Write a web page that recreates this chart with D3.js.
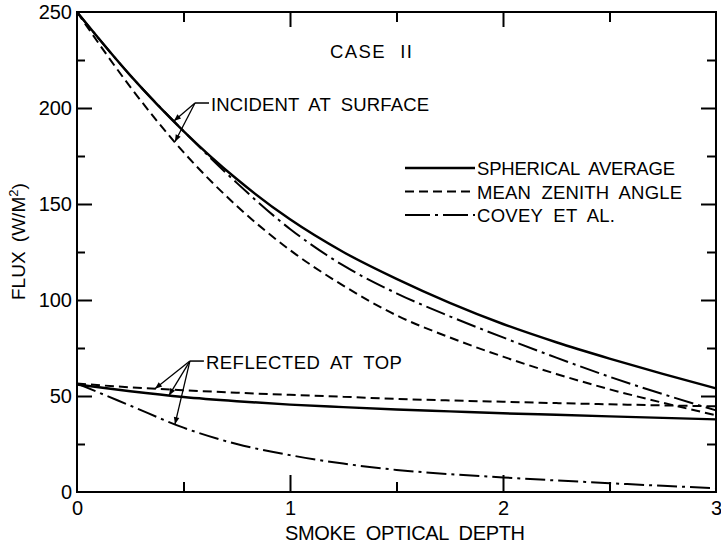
<!DOCTYPE html>
<html>
<head>
<meta charset="utf-8">
<script src="https://cdnjs.cloudflare.com/ajax/libs/d3/7.8.5/d3.min.js"></script>
<style>
    body { margin: 0; background: #fff; }
    text { font-family: "Liberation Sans", Arial, sans-serif; fill: #000; }
</style>
</head>
<body>
<script>
// smoke optical depth (x) and fluxes in W/m2
var depth = [0, 0.25, 0.5, 0.75, 1, 1.25, 1.5, 1.75, 2, 2.25, 2.5, 2.75, 3];

// incident at surface
var incSpherical = [250, 217, 188, 163, 142, 125, 111, 98.5, 87.5, 78, 69.5, 61.5, 54];
var incZenith = [250, 211, 177, 149, 126, 107.5, 92, 80.5, 70.5, 61.5, 53.5, 46.5, 40];
var incCovey = [250, 217, 188, 161, 137, 118, 103.5, 91.5, 80.5, 70, 60, 51, 42.5];

// reflected at top
var refSpherical = [56, 52.5, 49.5, 47.3, 45.5, 44.2, 43, 42, 41, 40.2, 39.4, 38.6, 37.8];
var refZenith = [56.5, 54.5, 53, 51.7, 50.6, 49.6, 48.5, 47.7, 47, 46.3, 45.7, 45.1, 44.6];
var refCovey = [56.5, 45, 33.5, 25, 19.2, 14.8, 11.5, 9.3, 7.6, 6, 4.6, 3.2, 2];

var xTickLabels = [0, 1, 2, 3];
var yTickLabels = [0, 50, 100, 150, 200, 250];
var seriesNames = ["SPHERICAL AVERAGE", "MEAN ZENITH ANGLE", "COVEY ET AL."];

var margin = { top: 12, right: 5, bottom: 55, left: 77 };
var width = 721 - margin.left - margin.right,
    height = 547 - margin.top - margin.bottom;

var dashes = ["none", "9,5", "20,5,3,5"];

var x = d3.scaleLinear().domain([0, 3]).range([0, width]);
var y = d3.scaleLinear().domain([0, 250]).range([height, 0]);

var svg = d3.select("body").append("svg")
    .attr("width", 721)
    .attr("height", 547)
    .append("g")
    .attr("transform", "translate(" + margin.left + "," + margin.top + ")");

var defs = svg.append("defs");
defs.append("marker")
    .attr("id", "arrow")
    .attr("viewBox", "0 0 10 10")
    .attr("refX", 10).attr("refY", 5)
    .attr("markerWidth", 9).attr("markerHeight", 7)
    .attr("markerUnits", "userSpaceOnUse")
    .attr("orient", "auto")
    .append("path")
    .attr("d", "M0,1L10,5L0,9z")
    .attr("fill", "#000");

// frame
svg.append("rect")
    .attr("width", width)
    .attr("height", height)
    .attr("fill", "none")
    .attr("stroke", "#000")
    .attr("stroke-width", 2);

// inward ticks on all four sides
function inwardTicks(axis, values, size, transform) {
    svg.append("g")
        .attr("class", "ticks")
        .attr("transform", transform)
        .call(axis.tickValues(values).tickSizeInner(-size).tickSizeOuter(0).tickFormat(""))
        .call(function (g) { g.select(".domain").remove(); });
}
inwardTicks(d3.axisBottom(x), [1, 2], 17, "translate(0," + height + ")");
inwardTicks(d3.axisBottom(x), [0.5, 1.5, 2.5], 10, "translate(0," + height + ")");
inwardTicks(d3.axisTop(x), [1, 2], 15, "");
inwardTicks(d3.axisTop(x), [0.5, 1.5, 2.5], 10, "");
inwardTicks(d3.axisLeft(y), [50, 100, 150, 200], 15, "");
inwardTicks(d3.axisLeft(y), [25, 75, 125, 175, 225], 8, "");
inwardTicks(d3.axisRight(y), [50, 100, 150, 200], 15, "translate(" + width + ",0)");
inwardTicks(d3.axisRight(y), [25, 75, 125, 175, 225], 9, "translate(" + width + ",0)");
svg.selectAll(".ticks line").attr("stroke", "#000").attr("stroke-width", 2);

// tick labels
var xAxis = d3.axisBottom(x).tickValues(xTickLabels).tickSize(0).tickPadding(9).tickFormat(d3.format("d"));
var yAxis = d3.axisLeft(y).tickValues(yTickLabels).tickSize(0).tickPadding(5).tickFormat(d3.format("d"));

svg.append("g")
    .attr("transform", "translate(0," + height + ")")
    .call(xAxis)
    .call(function (g) { g.select(".domain").remove(); });
svg.append("g")
    .call(yAxis)
    .call(function (g) { g.select(".domain").remove(); });
svg.selectAll(".tick text")
    .style("font-family", '"Liberation Sans", Arial, sans-serif')
    .style("font-size", "20px")
    .attr("fill", "#000");

// axis titles
svg.append("text")
    .attr("x", 285 - margin.left)
    .attr("y", height + 48)
    .attr("textLength", 240)
    .attr("lengthAdjust", "spacing")
    .style("font-size", "20px")
    .style("word-spacing", "5px")
    .text("SMOKE OPTICAL DEPTH");

var ylab = svg.append("text")
    .attr("transform", "rotate(-90)")
    .attr("x", -(300 - margin.top))
    .attr("y", -52)
    .style("font-size", "19px")
    .style("word-spacing", "4px");
ylab.append("tspan").text("FLUX (W/M");
ylab.append("tspan").attr("baseline-shift", "super").style("font-size", "13px").text("2");
ylab.append("tspan").text(")");

// curves
var line = d3.line()
    .x(function (d) { return x(d[0]); })
    .y(function (d) { return y(d[1]); })
    .curve(d3.curveMonotoneX);

var curves = [
    { values: incSpherical, style: 0 },
    { values: incZenith, style: 1 },
    { values: incCovey, style: 2 },
    { values: refSpherical, style: 0 },
    { values: refZenith, style: 1 },
    { values: refCovey, style: 2 }
];

svg.selectAll(".curve")
    .data(curves)
    .enter().append("path")
    .attr("class", "curve")
    .attr("d", function (d) { return line(d3.zip(depth, d.values)); })
    .attr("fill", "none")
    .attr("stroke", "#000")
    .attr("stroke-width", function (d) { return d.style == 0 ? 2.4 : 2; })
    .attr("stroke-dasharray", function (d) { return dashes[d.style]; });

// value on a curve at optical depth t (linear between read points)
function valueAt(values, t) {
    return d3.scaleLinear().domain(depth).range(values)(t);
}

// annotations with arrows
function annotate(label, ax, ay, len, targets) {
    var px = x(ax), py = y(ay);
    svg.append("line")
        .attr("x1", px).attr("y1", py)
        .attr("x2", px + 14).attr("y2", py)
        .attr("stroke", "#000").attr("stroke-width", 1.5);
    targets.forEach(function (t) {
        svg.append("line")
            .attr("x1", px).attr("y1", py)
            .attr("x2", x(t[1])).attr("y2", y(valueAt(t[0], t[1])))
            .attr("stroke", "#000").attr("stroke-width", 1.3)
            .attr("marker-end", "url(#arrow)");
    });
    svg.append("text")
        .attr("x", px + 16)
        .attr("y", py + 8)
        .attr("textLength", len)
        .attr("lengthAdjust", "spacing")
        .style("font-size", "18.5px")
        .style("word-spacing", "5px")
        .text(label);
}
annotate("INCIDENT AT SURFACE", 0.554, 202.6, 218, [[incSpherical, 0.455], [incZenith, 0.46]]);
annotate("REFLECTED AT TOP", 0.53, 68.2, 196, [[refZenith, 0.366], [refSpherical, 0.432], [refCovey, 0.46]]);

svg.append("text")
    .attr("x", 330 - margin.left)
    .attr("y", 58 - margin.top)
    .attr("textLength", 82)
    .attr("lengthAdjust", "spacing")
    .style("font-size", "18.5px")
    .style("word-spacing", "8px")
    .text("CASE II");

// legend
var legendWidths = [198, 205, 138];
var legend = svg.append("g")
    .attr("transform", "translate(" + (405 - margin.left) + "," + (168 - margin.top) + ")");
var item = legend.selectAll(".item")
    .data(seriesNames)
    .enter().append("g")
    .attr("transform", function (d, i) { return "translate(0," + (i * 23.5) + ")"; });
item.append("line")
    .attr("x1", 0).attr("x2", 70)
    .attr("stroke", "#000")
    .attr("stroke-width", function (d, i) { return i == 0 ? 2.4 : 2; })
    .attr("stroke-dasharray", function (d, i) { return i == 2 ? "25,5,3,5" : dashes[i]; });
item.append("text")
    .attr("x", 72)
    .attr("y", 7)
    .attr("textLength", function (d, i) { return legendWidths[i]; })
    .attr("lengthAdjust", "spacing")
    .style("font-size", "18.5px")
    .style("word-spacing", "5px")
    .text(function (d) { return d; });
</script>
</body>
</html>
